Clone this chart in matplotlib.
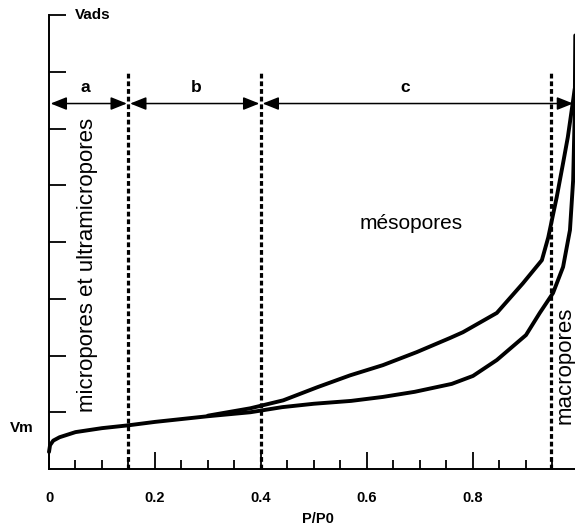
import matplotlib
matplotlib.use("Agg")
import matplotlib.pyplot as plt
from matplotlib.ticker import MultipleLocator, FixedLocator

plt.rcParams['font.family'] = ['Liberation Sans', 'DejaVu Sans']

# Adsorption branch (lower curve)
ads_x = [0.0, 0.002, 0.008, 0.02, 0.05, 0.10, 0.15, 0.20, 0.30, 0.38, 0.44, 0.50,
         0.57, 0.63, 0.69, 0.76, 0.80, 0.845, 0.90, 0.926, 0.951, 0.97, 0.983,
         0.989, 0.992, 0.993]
ads_y = [0.30, 0.42, 0.50, 0.56, 0.65, 0.72, 0.77, 0.83, 0.93, 1.00, 1.09, 1.15,
         1.20, 1.27, 1.36, 1.50, 1.64, 1.92, 2.36, 2.75, 3.10, 3.56, 4.21,
         5.09, 6.27, 7.64]

# Desorption branch (upper curve)
des_x = [0.30, 0.38, 0.442, 0.506, 0.568, 0.63, 0.694, 0.757, 0.781, 0.845, 0.894,
         0.93, 0.942, 0.958, 0.97, 0.979, 0.989, 0.992]
des_y = [0.94, 1.07, 1.21, 1.44, 1.65, 1.83, 2.06, 2.31, 2.41, 2.75, 3.27,
         3.68, 4.08, 4.79, 5.39, 5.85, 6.50, 6.70]

boundaries = [0.15, 0.40, 0.947]
zones = [("a", 0.0, 0.15, 0.068), ("b", 0.15, 0.40, 0.277), ("c", 0.40, 0.992, 0.672)]
xtick_vals = [0.0, 0.2, 0.4, 0.6, 0.8]
xtick_labels = ["0", "0.2", "0.4", "0.6", "0.8"]

fig = plt.figure(figsize=(5.75, 5.30), dpi=100)
ax = fig.add_axes([49/575, 61/530, 526/575, 454/530])
ax.set_xlim(0, 0.9925)
ax.set_ylim(0, 8)

for s in ['top', 'right']:
    ax.spines[s].set_visible(False)
for s in ['left', 'bottom']:
    ax.spines[s].set_linewidth(1.4)

ax.plot(ads_x, ads_y, color='black', lw=2.8, solid_capstyle='round', solid_joinstyle='round', clip_on=False)
ax.plot(des_x, des_y, color='black', lw=2.8, solid_capstyle='round', solid_joinstyle='round', clip_on=False)

for b in boundaries:
    ax.plot([b, b], [0, 7.02], color='black', lw=2.3, dashes=(1.5, 0.9), clip_on=False)

for lab, x0, x1, xm in zones:
    ax.annotate("", xy=(x1 - 0.003, 6.44), xytext=(x0 + 0.003, 6.44),
                arrowprops=dict(arrowstyle='<|-|>,head_length=0.7,head_width=0.28',
                                mutation_scale=14, lw=1.1, color='black',
                                shrinkA=0, shrinkB=0), annotation_clip=False)
    ax.text(xm, 6.72, lab, ha='center', va='center', fontsize=12.5, fontweight='bold')

# ticks
ax.xaxis.set_major_locator(FixedLocator(xtick_vals))
ax.set_xticklabels(xtick_labels, fontweight='bold', fontsize=10.5)
ax.xaxis.set_minor_locator(MultipleLocator(0.05))
ax.tick_params(axis='x', which='major', direction='in', length=12.5, width=1.3, pad=16)
ax.tick_params(axis='x', which='minor', direction='in', length=6.5, width=1.3)
ax.yaxis.set_major_locator(FixedLocator([1, 2, 3, 4, 5, 6, 7, 8]))
ax.set_yticklabels([])
ax.tick_params(axis='y', which='major', direction='in', length=12.5, width=1.3)

ax.text(0.049, 8.0, "Vads", ha='left', va='center', fontsize=11, fontweight='bold', clip_on=False)
ax.text(-0.052, 0.72, "Vm", ha='center', va='center', fontsize=11, fontweight='bold', clip_on=False)
ax.text(0.511, -0.110, "P/P0", transform=ax.transAxes, ha='center', va='center',
        fontsize=10.5, fontweight='bold')

ax.text(0.072, 3.59, "micropores et ultramicropores", rotation=90, ha='center', va='center', fontsize=16)
ax.text(0.683, 4.33, "mésopores", ha='center', va='center', fontsize=15)
ax.text(0.974, 1.83, "macropores", rotation=90, ha='center', va='center', fontsize=16, clip_on=False)

fig.savefig("out.png", dpi=100)
